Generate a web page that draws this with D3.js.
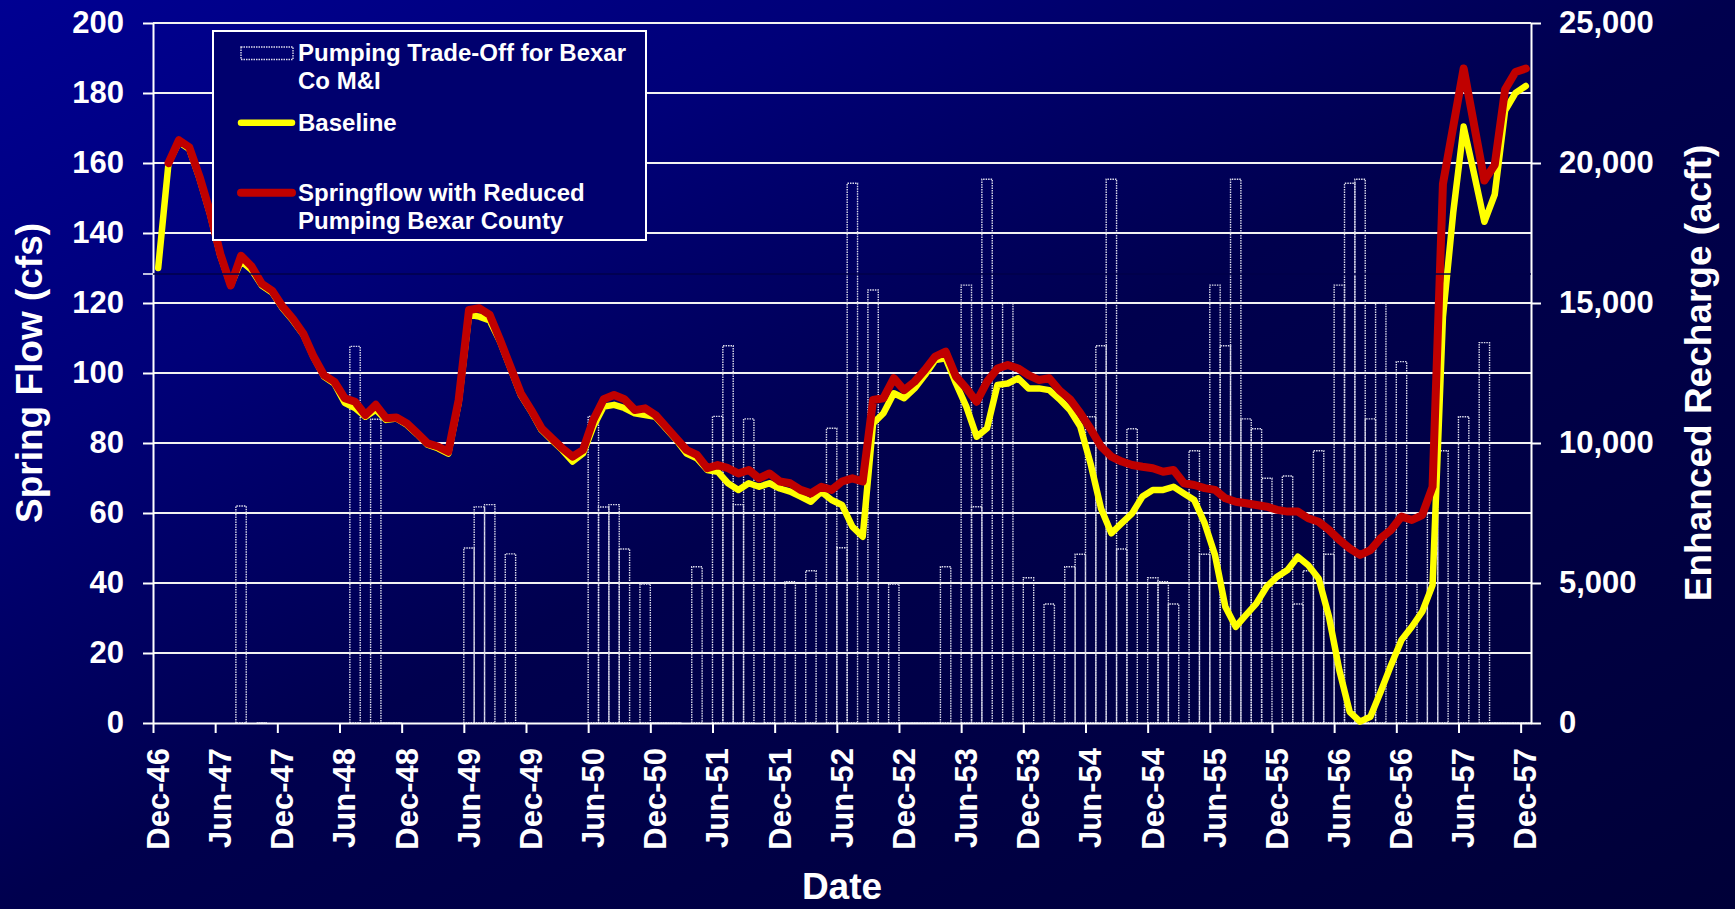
<!DOCTYPE html>
<html>
<head>
<meta charset="utf-8">
<script src="https://cdn.jsdelivr.net/npm/d3@7"></script>
<style>
  html, body { margin: 0; padding: 0; background: #000050; }
  svg { display: block; }
  text { font-family: "Liberation Sans", Arial, Helvetica, sans-serif; font-weight: bold; fill: #fff; }
</style>
</head>
<body>
<div class="chart"></div>
<script>
/* global d3 */

// one value per month, Dec-46 .. Dec-57 (133 months)
var tickLabels = ["Dec-46", "Jun-47", "Dec-47", "Jun-48", "Dec-48", "Jun-49", "Dec-49", "Jun-50",
  "Dec-50", "Jun-51", "Dec-51", "Jun-52", "Dec-52", "Jun-53", "Dec-53", "Jun-54", "Dec-54",
  "Jun-55", "Dec-55", "Jun-56", "Dec-56", "Jun-57", "Dec-57"];

var seriesNames = ["Pumping Trade-Off for Bexar|Co M&I", "Baseline", "Springflow with Reduced|Pumping Bexar County"];

// spring flow, cfs
var baseline = [
  130, 160, 166, 164, 155.5, 145.5, 133.5, 125, 132, 129.5, 125, 123,
  118.5, 115, 111, 104.5, 99, 97, 91.5, 90, 87.5, 89.5, 86.6, 87,
  85.2, 82.5, 79.5, 78.5, 77, 91.5, 116.6, 116.1, 115, 109, 101.3, 93.7,
  89, 83.7, 80.8, 78, 74.7, 77, 84.7, 90.4, 90.9, 90, 88.5, 88,
  87.5, 84.2, 80.9, 77, 75.6, 72.3, 71.8, 68.5, 66.6, 68.5, 67.5, 68.5,
  67, 66.1, 64.7, 63.2, 66.1, 63.7, 62.3, 56.1, 53.2, 85.6, 88.5, 94.2,
  92.8, 95.6, 99.4, 103.7, 104.2, 97, 90.4, 81.8, 84.2, 96.6, 97, 98.5,
  95.6, 95.6, 95.1, 92.5, 89.4, 84.7, 74, 61.3, 54.2, 57.1, 59.9, 64.7,
  66.6, 66.6, 67.5, 65.6, 63.7, 57.1, 48, 33.2, 27.5, 30.9, 34.2, 39,
  41.8, 43.7, 47.5, 45.1, 41.3, 30.4, 15.1, 3.2, 0.4, 1.8, 9, 16.6,
  23.7, 27.5, 31.8, 39.4, 116, 146, 170.4, 157, 143.2, 151, 175, 180,
  182
];

var reduced = [
  null, 160, 166.5, 164.5, 156, 146, 134, 125, 133.5, 130.5, 125.5, 123.5,
  119, 115.5, 111.3, 104.7, 99.4, 97.5, 92.8, 91.8, 88, 90.9, 87.1, 87.3,
  85.6, 82.8, 79.9, 79, 77.5, 92.3, 118, 118.5, 116.6, 109.4, 101.8, 94.2,
  89.4, 84.2, 81.3, 78.5, 76.1, 78, 86.6, 92.5, 93.7, 92.5, 89.4, 89.9,
  88, 84.7, 81.3, 78, 76.6, 72.8, 73.7, 72.8, 71.3, 72.3, 69.9, 71.3,
  69, 68.5, 66.6, 65.6, 67.5, 66.6, 69, 69.9, 69, 92.3, 92.8, 98.5,
  95.1, 97.5, 100.9, 104.7, 106.1, 99, 95.6, 91.8, 97.5, 101.3, 102.3, 101.3,
  99.4, 98, 98.5, 95, 92.5, 88.5, 84, 79, 76.1, 74.7, 73.7, 73.2,
  72.8, 71.8, 72.3, 68.5, 68, 67.1, 66.6, 64.2, 63.2, 62.8, 62.3, 61.8,
  60.9, 60.4, 60.4, 58.5, 57.5, 55.2, 52.3, 49.9, 48, 49.4, 52.8, 55.2,
  59, 58, 59.4, 67.5, 154, 170.5, 187, 171, 155, 159.5, 181, 186,
  187
];

// enhanced recharge, acft
var tradeOff = [
  null, null, null, null, null, null, null, null, 7750, null, 0, null,
  null, null, null, null, null, null, null, 13450, null, 10850, 0, 0,
  null, null, null, null, null, null, 6250, 7720, 7800, null, 6040, 0,
  null, null, null, null, null, null, 10950, 7715, 7800, 6215, null, 4965,
  0, 0, 0, null, 5580, null, 10950, 13475, 7800, 10860, null, 8500,
  null, 5050, null, 5440, null, 10525, 6260, 19275, null, 15465, null, 4965,
  0, 0, 0, 0, 5580, null, 15640, 7725, 19420, null, 14990, null,
  5190, null, 4250, null, 5580, 6025, 10940, 13475, 19420, 6215, 10510, null,
  5190, 5050, 4250, null, 9725, 6025, 15640, 13475, 19420, 10860, 10510, 8740,
  null, 8820, 4250, 5440, 9725, 6025, 15640, 19275, 19420, 10860, 14990, null,
  12905, null, 5000, 7500, 9725, null, 10940, null, 13585, 0, 0, 0,
  0
];

make_chart();

function make_chart() {
  var width = 1735, height = 909;
  var left = 153, right = 1531, top = 23, bottom = 723;
  var n = baseline.length;

  var svg = d3.select(".chart").append("svg")
    .attr("width", width)
    .attr("height", height);

  var grad = svg.append("defs").append("linearGradient")
    .attr("id", "bg")
    .attr("x1", 0).attr("y1", 0).attr("x2", 1).attr("y2", 1);
  grad.append("stop").attr("offset", "0%").attr("stop-color", "#000092");
  grad.append("stop").attr("offset", "25%").attr("stop-color", "#000078");
  grad.append("stop").attr("offset", "50%").attr("stop-color", "#00004e");
  grad.append("stop").attr("offset", "100%").attr("stop-color", "#000038");

  svg.append("rect")
    .attr("width", width)
    .attr("height", height)
    .attr("fill", "url(#bg)");

  var x = d3.scaleBand().domain(d3.range(n)).range([left, right]).padding(0);
  var xTick = d3.scaleLinear().domain([0, n]).range([left, right]);
  var yFlow = d3.scaleLinear().domain([0, 200]).range([bottom, top]);
  var yRech = d3.scaleLinear().domain([0, 25000]).range([bottom, top]);

  // gridlines
  svg.append("g")
    .selectAll("line")
    .data(d3.range(20, 201, 20))
    .enter()
    .append("line")
    .attr("x1", left).attr("x2", right)
    .attr("y1", yFlow).attr("y2", yFlow)
    .attr("stroke", "#f2f2f2")
    .attr("stroke-width", 2);

  // bars: dotted outline, no fill
  svg.append("g")
    .selectAll("path")
    .data(tradeOff.map(function(v, i) { return {i: i, v: v}; }).filter(function(d) { return d.v !== null; }))
    .enter()
    .append("path")
    .attr("d", function(d) {
      var x0 = x(d.i), x1 = x(d.i) + x.bandwidth(), y0 = yRech(0), y1 = yRech(d.v);
      return "M" + x0 + "," + y0 + "V" + y1 + "H" + x1 + "V" + y0 + "Z";
    })
    .attr("fill", "none")
    .attr("stroke", "#dcdcec")
    .attr("stroke-width", 1.4)
    .attr("stroke-dasharray", "1.5,1");

  // axes
  var gl = svg.append("g")
    .attr("transform", "translate(" + left + ",0)")
    .call(d3.axisLeft(yFlow).tickValues(d3.range(0, 201, 20)).tickSize(10).tickPadding(19).tickSizeOuter(0));
  var gr = svg.append("g")
    .attr("transform", "translate(" + right + ",0)")
    .call(d3.axisRight(yRech).tickValues(d3.range(0, 25001, 5000)).tickSize(10).tickPadding(18)
      .tickSizeOuter(0).tickFormat(d3.format(",")));
  var gb = svg.append("g")
    .attr("transform", "translate(0," + bottom + ")")
    .call(d3.axisBottom(xTick).tickValues(d3.range(0, n, 6)).tickSize(10).tickSizeOuter(0)
      .tickFormat(function(d, i) { return tickLabels[i]; }));

  [gl, gr, gb].forEach(function(g) {
    g.attr("color", "#fff");
    g.select(".domain").attr("stroke-width", 2);
    g.selectAll(".tick line").attr("stroke-width", 2);
    g.selectAll("text")
      .style("font-family", '"Liberation Sans", Arial, sans-serif')
      .style("font-weight", "bold")
      .style("font-size", "31px")
      .attr("fill", "#fff");
  });

  gb.selectAll("text")
    .attr("transform", "rotate(-90)")
    .attr("x", -25)
    .attr("y", 4.5)
    .attr("dy", "0.35em")
    .attr("text-anchor", "end");

  // lines
  var lineFlow = function(data) {
    return d3.line()
      .defined(function(d) { return d !== null; })
      .x(function(d, i) { return x(i) + x.bandwidth() / 2; })
      .y(function(d) { return yFlow(d); })(data);
  };

  svg.append("path")
    .attr("d", lineFlow(baseline))
    .attr("fill", "none")
    .attr("stroke", "#ffff00")
    .attr("stroke-width", 6.5)
    .attr("stroke-linejoin", "round")
    .attr("stroke-linecap", "round");

  svg.append("path")
    .attr("d", lineFlow(reduced))
    .attr("fill", "none")
    .attr("stroke", "#c00000")
    .attr("stroke-width", 8)
    .attr("stroke-linejoin", "round")
    .attr("stroke-linecap", "round");

  // faint dark rule crossing the plot
  svg.append("line")
    .attr("x1", left).attr("x2", right)
    .attr("y1", 274).attr("y2", 274)
    .attr("stroke", "#00004a")
    .attr("stroke-width", 1.5);
  svg.append("line")
    .attr("x1", left - 10).attr("x2", left)
    .attr("y1", 274).attr("y2", 274)
    .attr("stroke", "#fff")
    .attr("stroke-width", 1.5);

  // axis titles
  svg.append("text")
    .attr("transform", "translate(29,373) rotate(-90)")
    .attr("text-anchor", "middle")
    .attr("dy", "0.35em")
    .style("font-size", "37px")
    .text("Spring Flow (cfs)");

  svg.append("text")
    .attr("transform", "translate(1698,373) rotate(-90)")
    .attr("text-anchor", "middle")
    .attr("dy", "0.35em")
    .style("font-size", "37px")
    .text("Enhanced Recharge (acft)");

  svg.append("text")
    .attr("x", (left + right) / 2)
    .attr("y", 899)
    .attr("text-anchor", "middle")
    .style("font-size", "37px")
    .text("Date");

  // legend
  var lg = svg.append("g");
  lg.append("rect")
    .attr("x", 213).attr("y", 31)
    .attr("width", 433).attr("height", 209)
    .attr("fill", "#00006e")
    .attr("stroke", "#fff")
    .attr("stroke-width", 2);
  lg.append("rect")
    .attr("x", 241).attr("y", 47)
    .attr("width", 52).attr("height", 12.5)
    .attr("fill", "none")
    .attr("stroke", "#dcdcec")
    .attr("stroke-width", 1.4)
    .attr("stroke-dasharray", "1.5,1");
  lg.append("line")
    .attr("x1", 241).attr("x2", 292).attr("y1", 122.7).attr("y2", 122.7)
    .attr("stroke", "#ffff00").attr("stroke-width", 6.5).attr("stroke-linecap", "round");
  lg.append("line")
    .attr("x1", 241).attr("x2", 292).attr("y1", 192.7).attr("y2", 192.7)
    .attr("stroke", "#c00000").attr("stroke-width", 8).attr("stroke-linecap", "round");

  var legendY = [61, 131, 201];
  seriesNames.forEach(function(name, k) {
    name.split("|").forEach(function(part, j) {
      lg.append("text")
        .attr("x", 298)
        .attr("y", legendY[k] + j * 28.3)
        .style("font-size", "24px")
        .text(part);
    });
  });
}
</script>
</body>
</html>
